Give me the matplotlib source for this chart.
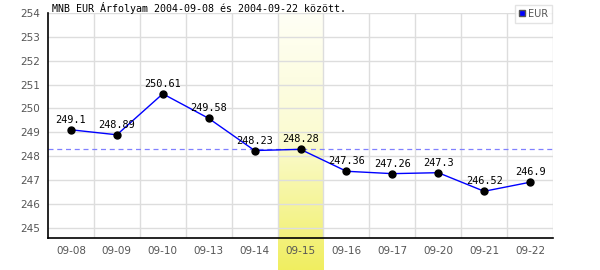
import numpy as np
import matplotlib
matplotlib.use("Agg")
import matplotlib.pyplot as plt
from matplotlib.transforms import blended_transform_factory
from matplotlib.colors import LinearSegmentedColormap
from matplotlib.lines import Line2D

dates = ["09-08", "09-09", "09-10", "09-13", "09-14", "09-15",
         "09-16", "09-17", "09-20", "09-21", "09-22"]
values = [249.1, 248.89, 250.61, 249.58, 248.23, 248.28,
          247.36, 247.26, 247.3, 246.52, 246.9]
labels = ["249.1", "248.89", "250.61", "249.58", "248.23", "248.28",
          "247.36", "247.26", "247.3", "246.52", "246.9"]
avg_value = 248.3
highlight = "09-15"
yticks = [245, 246, 247, 248, 249, 250, 251, 252, 253, 254]
title = "MNB EUR Árfolyam 2004-09-08 és 2004-09-22 között."
series_name = "EUR"

fig = plt.figure(figsize=(6, 2.7), dpi=100)
ax = fig.add_axes([48/600, 1-238/270, 505/600, 225/270])

x = np.arange(len(dates))
ax.set_xlim(-0.5, len(dates) - 0.5)
ax.set_ylim(244.56, 254)

# highlight column gradient
hi = dates.index(highlight)
cmap = LinearSegmentedColormap.from_list("hl", ["#fffff6", "#fbfbd0", "#f0ee60"])
grad = np.linspace(0, 1, 256).reshape(-1, 1)
tr = blended_transform_factory(ax.transData, ax.transAxes)
im = ax.imshow(grad, cmap=cmap, aspect="auto", origin="upper",
               extent=[hi - 0.5, hi + 0.5, -32/225, 1.0 + 1/225],
               transform=tr, zorder=0, clip_on=False, interpolation="bilinear")

# grid
for b in np.arange(0.5, len(dates) - 0.5 + 1e-9, 1.0):
    ax.axvline(b, color="#dddddd", lw=1, zorder=1)
for yt in yticks:
    ax.axhline(yt, color="#dddddd", lw=1, zorder=1)

ax.axhline(avg_value, color="#8080ff", lw=0.9, ls=(0, (4, 3)), zorder=2)

ax.plot(x, values, color="#0000ff", lw=1, zorder=3)
ax.plot(x, values, "o", color="black", ms=5, zorder=4)
for xi, v, lab in zip(x, values, labels):
    ax.annotate(lab, (xi, v), xytext=(0, 5), textcoords="offset points",
                ha="center", va="baseline", fontsize=7.4,
                family="DejaVu Sans Mono", color="black", zorder=5)

ax.set_xticks(x)
ax.set_xticklabels(dates)
ax.set_yticks(yticks)
ax.tick_params(length=0, labelsize=7.5, labelcolor="#555555", pad=6)
ax.set_xlim(-0.5, len(dates) - 0.5)
ax.set_ylim(244.56, 254)

for s in ["top", "right"]:
    ax.spines[s].set_visible(False)
ax.spines["left"].set_color("black")
ax.spines["bottom"].set_color("black")
ax.spines["left"].set_linewidth(1.2)
ax.spines["bottom"].set_linewidth(1.2)
ax.spines["left"].set_zorder(6)
ax.spines["bottom"].set_zorder(6)

fig.text(52/600, 1 - 12.5/270, title, fontsize=7.2, family="DejaVu Sans Mono",
         va="baseline", ha="left", color="black")

handle = Line2D([], [], marker="s", ls="none", markerfacecolor="#0000ff",
                markeredgecolor="#555555", markersize=5)
leg = fig.legend([handle], [series_name], loc="upper right",
                 bbox_to_anchor=(552/600, 1 - 5/270), fontsize=7,
                 frameon=True, fancybox=False, handlelength=0.6,
                 handletextpad=0.3, borderpad=0.4, borderaxespad=0)
leg.get_frame().set_edgecolor("#dddddd")
leg.get_frame().set_linewidth(1)
for t in leg.get_texts():
    t.set_color("#555555")

fig.savefig("out.png", dpi=100)
